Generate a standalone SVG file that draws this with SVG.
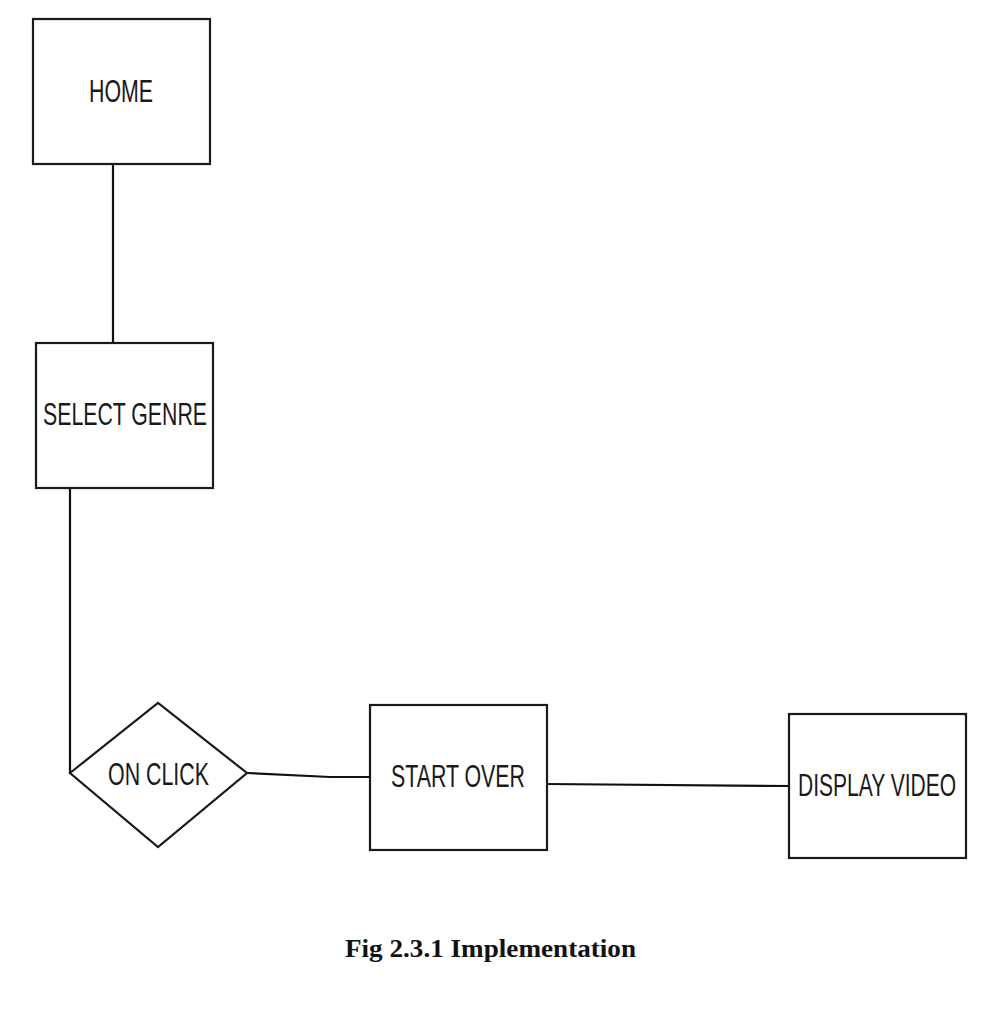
<svg xmlns="http://www.w3.org/2000/svg" width="1005" height="1016" viewBox="0 0 1005 1016">
<style>
.box{fill:#fff;stroke:#1a1a1a;stroke-width:2.2}
.lbl{font-family:"Liberation Sans",Arial,sans-serif;font-size:31px;fill:#1a1a1a}
.conn{fill:none;stroke:#111;stroke-width:2.2}
.cap{font-family:"Liberation Serif","Times New Roman",serif;font-weight:bold;font-size:26px;fill:#111}
</style>
<rect width="1005" height="1016" fill="#fff"/>
<g id="connectors">
<polyline class="conn" points="113,164 113,347"/>
<polyline class="conn" points="70,488 70,773"/>
<polyline class="conn" points="247,773 330,777 370,777"/>
<polyline class="conn" points="547,784 789,786"/>
</g>
<g id="home">
<rect class="box" x="33" y="19" width="177" height="145"/>
<text class="lbl" x="89" y="102" textLength="64" lengthAdjust="spacingAndGlyphs">HOME</text>
</g>
<g id="select-genre">
<rect class="box" x="36" y="343" width="177" height="145"/>
<text class="lbl" x="43" y="425" textLength="164" lengthAdjust="spacingAndGlyphs">SELECT GENRE</text>
</g>
<g id="on-click">
<polygon class="box" points="70,773 158,703 247,773 158,847"/>
<text class="lbl" x="108" y="785" textLength="101" lengthAdjust="spacingAndGlyphs">ON CLICK</text>
</g>
<g id="start-over">
<rect class="box" x="370" y="705" width="177" height="145"/>
<text class="lbl" x="391" y="787" textLength="134" lengthAdjust="spacingAndGlyphs">START OVER</text>
</g>
<g id="display-video">
<rect class="box" x="789" y="714" width="177" height="144"/>
<text class="lbl" x="798" y="796" textLength="158" lengthAdjust="spacingAndGlyphs">DISPLAY VIDEO</text>
</g>
<text class="cap" x="345" y="957" textLength="291" lengthAdjust="spacingAndGlyphs">Fig 2.3.1 Implementation</text>
</svg>
